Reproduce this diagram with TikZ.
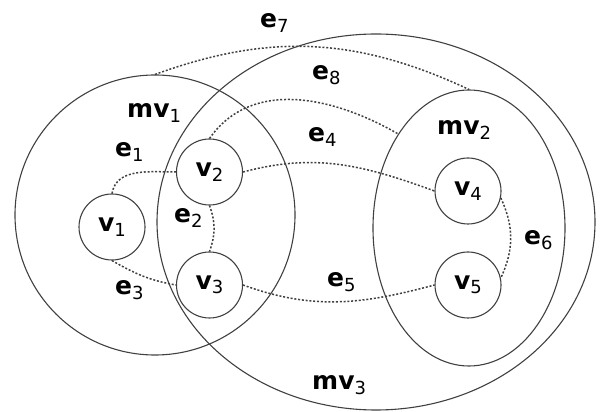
\documentclass[tikz,border=0pt]{standalone}
\usepackage{fontspec}
\setmainfont{DejaVu Sans}
\usetikzlibrary{shapes.geometric}
\newcommand\lbl[2]{#1\raisebox{-4.5pt}{\fontsize{18}{18}\selectfont\mdseries #2}}
\begin{document}
\begin{tikzpicture}[x=1pt,y=1pt,
  ring/.style={draw=black!75, line width=1.1pt, inner sep=0pt},
  vert/.style={ring, circle, minimum size=66pt, font=\fontsize{25}{25}\selectfont\bfseries},
  dotedge/.style={draw=black!75, line width=1.5pt, dash pattern=on 2pt off 1.8pt},
  lab/.style={anchor=base west, inner sep=0pt, font=\fontsize{25}{25}\selectfont\bfseries}]
\useasboundingbox (0,0) rectangle (605,412);
% meta vertices
\node[ring, circle, minimum size=280pt] (mv1) at (155,197) {};
\node[ring, ellipse, minimum width=438pt, minimum height=376pt] (mv3) at (376,190) {};
\node[ring, ellipse, minimum width=192pt, minimum height=276pt] (mv2) at (469,184) {};
% vertices
\node[vert] (v1) at (112,185) {\lbl{v}{1}};
\node[vert] (v2) at (209.5,240) {\lbl{v}{2}};
\node[vert] (v3) at (209.5,127) {\lbl{v}{3}};
\node[vert] (v4) at (468,221) {\lbl{v}{4}};
\node[vert] (v5) at (468,127) {\lbl{v}{5}};
% edges
\draw[dotedge] (v1.north) to[out=80,in=180] (v2.west);
\draw[dotedge] (v2.south) to[bend left=20] (v3.north);
\draw[dotedge] (v1.south) to[out=-30,in=170] (v3.west);
\draw[dotedge] (v2.east) to[out=15,in=160] (v4.west);
\draw[dotedge] (v3.east) to[out=-20,in=-165] (v5.west);
\draw[dotedge] (v4.-12) to[out=-65,in=65] (v5.12);
\draw[dotedge] (mv1.north) to[out=20,in=155] (mv2.north);
\draw[dotedge] (v2.north) to[out=55,in=150] (mv2.127);
% labels
\node[lab] (le7) at (260,384) {\lbl{e}{7}};
\node[lab] (lmv1) at (127,294) {\lbl{mv}{1}};
\node[lab] (le1) at (115,255) {\lbl{e}{1}};
\node[lab] (le8) at (312,332) {\lbl{e}{8}};
\node[lab] (le4) at (308,270) {\lbl{e}{4}};
\node[lab] (lmv2) at (437,277) {\lbl{mv}{2}};
\node[lab] (le2) at (174,189) {\lbl{e}{2}};
\node[lab] (le3) at (115,117) {\lbl{e}{3}};
\node[lab] (le5) at (327,125) {\lbl{e}{5}};
\node[lab] (le6) at (524,167) {\lbl{e}{6}};
\node[lab] (lmv3) at (312,22) {\lbl{mv}{3}};
\end{tikzpicture}
\end{document}
